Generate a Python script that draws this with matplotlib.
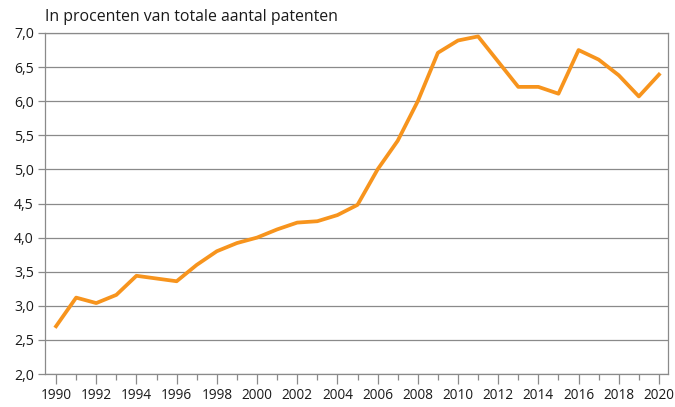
import matplotlib
matplotlib.use("Agg")
import matplotlib.pyplot as plt
from matplotlib.ticker import FixedLocator, FuncFormatter

years = list(range(1990, 2021))
share = [2.70, 3.12, 3.04, 3.16, 3.44, 3.40, 3.36, 3.60, 3.80, 3.92,
         4.00, 4.12, 4.22, 4.24, 4.33, 4.48, 5.00, 5.42, 6.00, 6.71,
         6.89, 6.95, 6.58, 6.21, 6.21, 6.11, 6.75, 6.61, 6.38, 6.07,
         6.39]
yticks = [2.0, 2.5, 3.0, 3.5, 4.0, 4.5, 5.0, 5.5, 6.0, 6.5, 7.0]
title = "In procenten van totale aantal patenten"

plt.rcParams['font.family'] = ['Open Sans', 'DejaVu Sans']
grey = '#8a8a8a'
ink = '#1a1a1a'

fig = plt.figure(figsize=(6.75, 4.07), dpi=100)
ax = fig.add_axes([45 / 675, 1 - 374 / 407, 623 / 675, 341 / 407])

ax.plot(years, share, color='#f7941d', lw=2.7, zorder=3)

ax.set_xlim(1989.45, 2020.45)
ax.set_ylim(2.0, 7.0)
ax.set_yticks(yticks)
ax.yaxis.set_major_formatter(FuncFormatter(lambda v, p: f"{v:.1f}".replace('.', ',')))
ax.grid(axis='y', color=grey, lw=0.9)

# even years get long ticks with labels, odd years short ones
ax.xaxis.set_major_locator(FixedLocator(years[::2]))
ax.xaxis.set_minor_locator(FixedLocator(years[1::2]))
ax.tick_params(axis='x', which='major', length=7, width=0.9, color=grey,
               labelsize=9.8, pad=3, labelcolor=ink)
ax.tick_params(axis='x', which='minor', length=4, width=0.9, color=grey)
ax.tick_params(axis='y', length=5, width=0.9, color=grey, labelsize=10.2,
               labelcolor=ink, pad=3)

for s in ax.spines.values():
    s.set_color(grey)
    s.set_linewidth(0.9)

fig.text(45 / 675, 1 - 17 / 407, title, fontsize=11.4, color=ink,
         va='center', ha='left')

fig.savefig('out.png', dpi=100)
